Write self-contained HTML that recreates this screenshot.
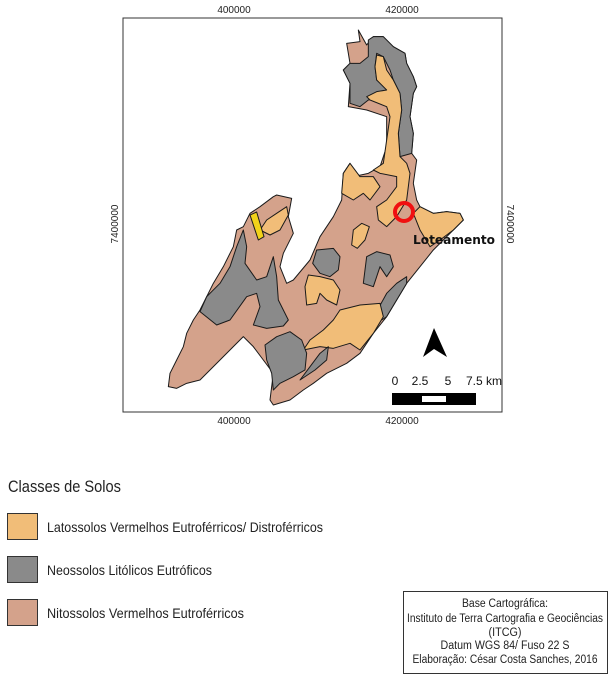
<!DOCTYPE html>
<html><head><meta charset="utf-8"><style>
html,body{margin:0;padding:0;background:#fff}
svg{display:block}
text{font-family:"Liberation Sans",sans-serif}
</style></head><body>
<svg width="616" height="679" viewBox="0 0 616 679">
<rect x="0" y="0" width="616" height="679" fill="#fff"/>
<g transform="translate(120,0) scale(0.33333)" stroke="#1a1a1a" stroke-width="3" stroke-linejoin="round">
<path fill="#d4a28b" d="M715,90 L720,125 L680,130 L690,190 L670,210 L690,250 L685,320 L740,330 L800,350 L800,440 L780,500 L745,520 L700,530 L690,490 L670,520 L665,600 L640,650 L600,710 L570,780 L520,840 L500,850 L480,800 L490,760 L520,700 L505,650 L515,595 L470,585 L460,590 L420,620 L390,640 L370,680 L350,690 L340,740 L310,800 L280,850 L260,890 L240,930 L220,960 L200,1000 L190,1040 L170,1080 L150,1120 L145,1160 L170,1165 L200,1150 L240,1140 L270,1110 L300,1080 L340,1040 L370,1010 L400,1040 L430,1080 L460,1120 L450,1200 L460,1215 L510,1200 L550,1170 L580,1150 L620,1120 L680,1090 L720,1060 L760,1000 L800,950 L830,900 L860,850 L900,800 L940,750 L1000,690 L1030,660 L1020,640 L980,635 L940,640 L900,620 L890,600 L880,550 L890,480 L875,460 L880,400 L870,350 L880,280 L890,260 L880,230 L860,190 L855,160 L820,140 L790,110 L760,110 L740,135 Z"/>
<path fill="#8a8a8a" d="M745,120 L760,110 L790,110 L820,140 L855,160 L860,190 L880,230 L890,260 L880,280 L870,350 L880,400 L875,460 L840,470 L835,400 L845,330 L840,280 L820,240 L810,210 L790,170 L770,160 L765,200 L770,240 L800,260 L800,290 L745,300 L720,320 L690,310 L690,250 L670,210 L690,190 L720,190 L745,170 Z"/>
<path fill="#f1bd78" d="M770,165 L790,170 L800,210 L820,240 L840,280 L845,330 L835,400 L840,470 L860,490 L870,520 L860,600 L830,650 L800,680 L775,660 L770,620 L800,600 L830,560 L830,530 L780,520 L760,510 L790,490 L800,420 L810,350 L800,320 L750,300 L740,290 L770,275 L800,270 L770,240 L765,200 Z"/>
<path fill="#f1bd78" d="M690,490 L670,520 L665,580 L700,600 L730,580 L750,600 L780,560 L760,530 L720,530 Z"/>
<path fill="#f1bd78" d="M880,640 L900,690 L930,740 L960,720 L1000,690 L1030,660 L1020,640 L980,635 L940,640 L900,620 Z"/>
<path fill="#f1bd78" d="M700,690 L725,670 L748,680 L735,720 L712,745 L695,735 Z"/>
<path fill="#8a8a8a" d="M590,750 L640,745 L660,770 L655,810 L630,830 L600,820 L578,790 Z"/>
<path fill="#8a8a8a" d="M740,770 L770,755 L810,765 L820,800 L800,830 L780,800 L770,830 L760,860 L730,850 L735,810 Z"/>
<path fill="#f1bd78" d="M565,825 L600,830 L640,840 L660,870 L650,915 L620,900 L600,880 L590,910 L560,915 L555,860 Z"/>
<path fill="#8a8a8a" d="M860,830 L860,850 L830,900 L800,950 L785,960 L778,920 L800,880 L830,850 Z"/>
<path fill="#f1bd78" d="M660,930 L720,915 L780,910 L790,950 L760,1000 L720,1050 L690,1030 L640,1045 L600,1040 L550,1050 L570,1020 L610,990 L640,960 Z"/>
<path fill="#8a8a8a" d="M240,935 L260,890 L300,850 L330,800 L350,740 L370,690 L380,740 L375,790 L410,840 L440,830 L460,770 L470,830 L475,900 L505,960 L490,978 L440,985 L400,975 L420,920 L410,880 L380,890 L330,960 L290,975 Z"/>
<path fill="#8a8a8a" d="M435,1035 L470,1010 L510,995 L545,1020 L560,1060 L555,1110 L520,1130 L480,1150 L460,1170 L455,1120 L440,1080 Z"/>
<path fill="#8a8a8a" d="M540,1140 L570,1100 L600,1060 L625,1040 L620,1080 L585,1110 Z"/>
<path fill="#f1bd78" d="M420,690 L440,660 L470,640 L500,620 L505,645 L480,690 L450,705 Z"/>
<path fill="#f2d21a" d="M390,645 L410,636 L432,710 L415,720 Z"/>
</g>
<rect x="123" y="18" width="379" height="394" fill="none" stroke="#333" stroke-width="1"/>
<g font-size="10" fill="#222">
<text x="234" y="13" text-anchor="middle">400000</text>
<text x="402" y="13" text-anchor="middle">420000</text>
<text x="234" y="424" text-anchor="middle">400000</text>
<text x="402" y="424" text-anchor="middle">420000</text>
<text transform="translate(118,224) rotate(-90)" text-anchor="middle">7400000</text>
<text transform="translate(507,224) rotate(90)" text-anchor="middle">7400000</text>
</g>
<circle cx="404" cy="212" r="9" fill="none" stroke="#f01010" stroke-width="4"/>
<text x="413" y="244" font-size="12.5" font-weight="bold" textLength="82" lengthAdjust="spacingAndGlyphs" style="font-family:'DejaVu Sans',sans-serif" fill="#111">Loteamento</text>
<polygon points="434,328 447,357 434,349 423,357" fill="#000"/>
<g font-size="12" fill="#111">
<text x="395" y="385" text-anchor="middle">0</text>
<text x="420" y="385" text-anchor="middle">2.5</text>
<text x="448" y="385" text-anchor="middle">5</text>
<text x="484" y="385" text-anchor="middle">7.5 km</text>
<rect x="392" y="393" width="84" height="12" fill="#000"/>
<rect x="422" y="396" width="24" height="6" fill="#fff"/>
</g>
<text x="8" y="492" font-size="17" textLength="113" lengthAdjust="spacingAndGlyphs" fill="#222">Classes de Solos</text>
<g font-size="14" fill="#222">
<rect x="7.5" y="513.5" width="30" height="26" fill="#f1bd78" stroke="#333"/>
<text x="47" y="532" textLength="276" lengthAdjust="spacingAndGlyphs">Latossolos Vermelhos Eutroférricos/ Distroférricos</text>
<rect x="7.5" y="556.5" width="30" height="26" fill="#8a8a8a" stroke="#333"/>
<text x="47" y="575" textLength="165" lengthAdjust="spacingAndGlyphs">Neossolos Litólicos Eutróficos</text>
<rect x="7.5" y="599.5" width="30" height="26" fill="#d4a28b" stroke="#333"/>
<text x="47" y="618" textLength="197" lengthAdjust="spacingAndGlyphs">Nitossolos Vermelhos  Eutroférricos</text>
</g>
<g font-size="11.5" fill="#222" text-anchor="middle">
<rect x="403.5" y="591.5" width="204" height="82" fill="#fff" stroke="#333"/>
<text x="505" y="607" textLength="86" lengthAdjust="spacingAndGlyphs">Base Cartográfica:</text>
<text x="505" y="622" textLength="196" lengthAdjust="spacingAndGlyphs">Instituto de Terra Cartografia e Geociências</text>
<text x="505" y="636" textLength="33" lengthAdjust="spacingAndGlyphs">(ITCG)</text>
<text x="505" y="649" textLength="129" lengthAdjust="spacingAndGlyphs">Datum WGS 84/ Fuso 22 S</text>
<text x="505" y="663" textLength="185" lengthAdjust="spacingAndGlyphs">Elaboração: César Costa Sanches, 2016</text>
</g>
</svg>
</body></html>
